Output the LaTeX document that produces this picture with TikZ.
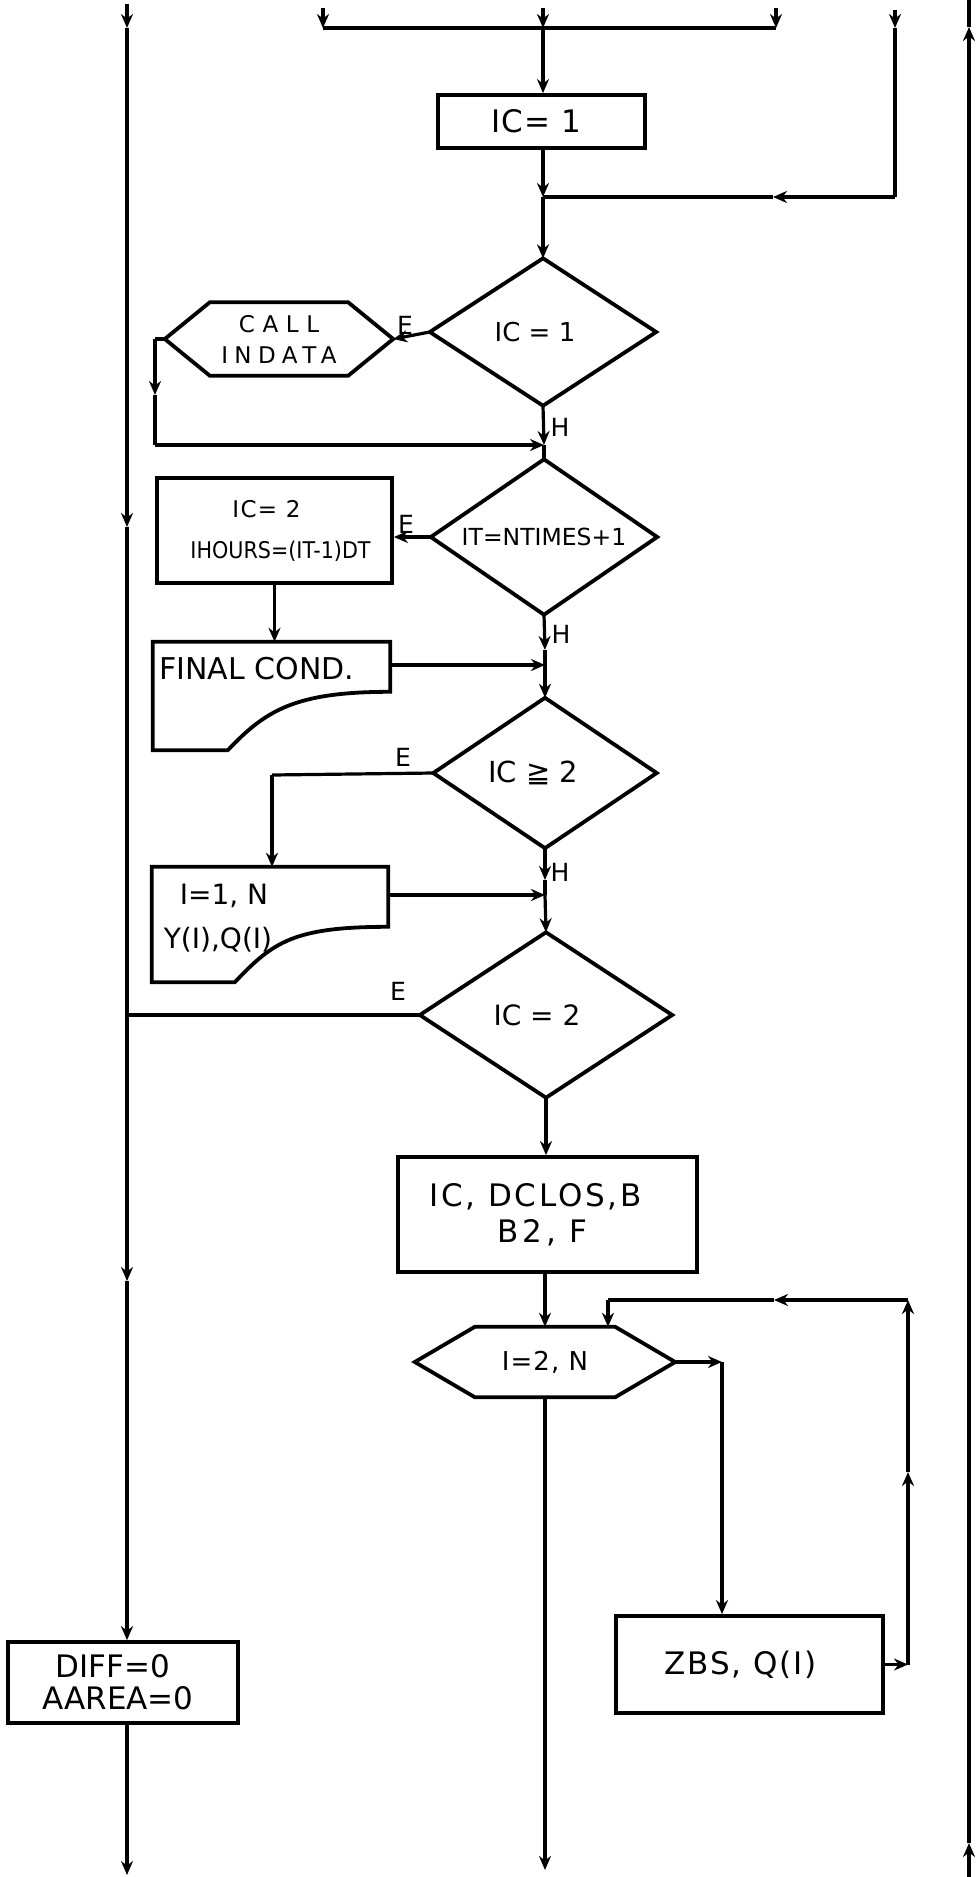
\documentclass[tikz,border=0pt]{standalone}
\usepackage{fontspec}
\setmainfont{DejaVu Sans}
\usetikzlibrary{arrows.meta,calc}
\newcommand\diaoutline[1]{\draw[shapeline] (#1.north) -- (#1.east) -- (#1.south) -- (#1.west) -- cycle;}
\newcommand\hexoutline[2]{\draw[shapeline] (#1.west) -- ($(#1.north west)+(#2,0)$) -- ($(#1.north east)+(-#2,0)$) -- (#1.east) -- ($(#1.south east)+(-#2,0)$) -- ($(#1.south west)+(#2,0)$) -- cycle;}
\newcommand\cardoutline[3]{\draw[shapeline] (#1.north west) -- (#1.north east) -- ($(#1.north east)+(0,#2)$) .. controls +(-95,0) and +(38,-40) .. ($(#1.south west)+(#3,0)$) -- (#1.south west) -- cycle;}
\newcommand\fs[1]{\fontsize{#1}{#1}\selectfont}
\newcommand\lsp[2]{{\addfontfeatures{LetterSpace=#1}#2}}
\begin{document}
\begin{tikzpicture}[x=1pt,y=-1pt,
  line/.style={line width=3.2pt},
  arr/.style={line width=3.2pt,-{Stealth[length=14pt,width=12pt]}},
  shapeline/.style={line width=3.8pt,line join=miter},
  box/.style={draw,line width=3.8pt,rectangle,inner sep=0pt,align=center},
  frame/.style={rectangle,inner sep=0pt,align=center},
  lab/.style={font=\fs{25},inner sep=0pt}]
\useasboundingbox (0,0) rectangle (978,1877);

% ---------- nodes ----------
\node[box,minimum width=207pt,minimum height=53pt,font=\fs{31}] (ic1) at (541.5,121.5) {\hspace*{-10pt}\lsp{4}{IC= 1}};

\node[frame,minimum width=226pt,minimum height=147pt,font=\fs{26}] (d1) at (543,332) {\hspace*{-16pt}IC = 1};
\diaoutline{d1}
\node[frame,minimum width=228pt,minimum height=73pt,font=\fs{23}] (call) at (279,339) {\lsp{33}{CALL}\\[8pt]\lsp{28}{INDATA}};
\hexoutline{call}{45}

\node[frame,minimum width=226pt,minimum height=155pt,font=\fs{23.5}] (d2) at (544,537) {IT=NTIMES+1};
\diaoutline{d2}
\node[box,minimum width=235pt,minimum height=105pt,font=\fs{23}] (ic2) at (274.5,530.5) {\hspace*{-16pt}\lsp{6}{IC= 2}\\[18pt]\hspace*{12pt}\scalebox{0.9}[1]{IHOURS=(IT-1)DT}};

\node[frame,minimum width=237pt,minimum height=108pt] (fc) at (271.5,696) {};
\cardoutline{fc}{50}{75}
\node[font=\fs{30},anchor=west,inner sep=0pt] (fct) at (159,669) {FINAL COND.};

\node[frame,minimum width=223pt,minimum height=150pt,font=\fs{29}] (d3) at (545,773) {\hspace*{-24pt}IC ≧ 2};
\diaoutline{d3}

\node[frame,minimum width=236pt,minimum height=115pt] (i1n) at (270,924.5) {};
\cardoutline{i1n}{60}{83}
\node[font=\fs{28},inner sep=0pt] (i1nt) at (224,896) {I=1, N};
\node[font=\fs{28},inner sep=0pt] (i1nq) at (218,940) {Y(I),Q(I)};

\node[frame,minimum width=252pt,minimum height=165pt,font=\fs{28}] (d4) at (546,1015) {\hspace*{-18pt}IC = 2};
\diaoutline{d4}

\node[box,minimum width=299pt,minimum height=115pt,font=\fs{31}] (dclos) at (547.5,1214.5) {\lsp{9}{IC, DCLOS,B}\hspace*{24pt}\\[5pt]\lsp{12}{B2, F}\hspace*{10pt}};

\node[frame,minimum width=260pt,minimum height=70pt,font=\fs{26}] (hex2) at (545,1362) {\lsp{4}{I=2, N}};
\hexoutline{hex2}{60}

\node[box,minimum width=267pt,minimum height=97pt,font=\fs{31}] (zbs) at (749.5,1664.5) {\hspace*{-18pt}\lsp{6}{ZBS, Q(I)}};

\node[box,minimum width=230pt,minimum height=81pt,font=\fs{31}] (diff) at (123,1682.5) {\hspace*{-20pt}DIFF=0\\[1pt]\hspace*{-10pt}AAREA=0};

% ---------- coordinates ----------
\coordinate (Ltop) at (127,4);
\coordinate (L1) at (127,28);
\coordinate (L2) at (127,527);
\coordinate (LE) at (127,1015);
\coordinate (L3) at (127,1281);
\coordinate (Lbot) at (127,1875);

\coordinate (Ttl) at (323,8);
\coordinate (Tl) at (323,28);
\coordinate (Tc0) at (543,8);
\coordinate (Tc) at (543,28);
\coordinate (Ttr) at (776,8);
\coordinate (Tr) at (776,28);

\coordinate (Rtop) at (895,10);
\coordinate (R1) at (895,28);
\coordinate (R2) at (895,197);
\coordinate (R3) at (773,197);
\coordinate (J1) at (543,197);

\coordinate (FR0) at (969,0);
\coordinate (FR1) at (969,27);
\coordinate (FR2) at (969,1843);
\coordinate (FR3) at (969,1877);

\coordinate (C1) at (155,395);
\coordinate (J2) at (544,445);
\coordinate (J3a) at (545,650);
\coordinate (J3) at (545,665);
\coordinate (J4a) at (545,880);
\coordinate (J4) at (545,895);
\coordinate (K1) at (272,775);

\coordinate (H1) at (722,1362);
\coordinate (Z1) at (908,1664.5);
\coordinate (Z2) at (908,1472);
\coordinate (Z3) at (908,1300);
\coordinate (Z4) at (774,1300);
\coordinate (Z5) at (608,1300);
\coordinate (Mbot) at (545,1870);

% ---------- connectors ----------
% left trunk
\draw[arr] (Ltop) -- (L1);
\draw[arr] (L1) -- (L2);
\draw[arr] (L2) -- (L3);
\draw[arr] (L3) -- (diff.north -| L3);
\draw[arr] (diff.south -| L3) -- (Lbot);

% far right trunk
\draw[arr] (FR3) -- (FR2);
\draw[arr] (FR2) -- (FR1);
\draw[line] (FR1) -- (FR0);

% top distributor
\draw[arr] (Ttl) -- (Tl);
\draw[arr] (Ttr) -- (Tr);
\draw[arr] (Tc0) -- (Tc);
\draw[line] (Tl) -- (Tr);
\draw[arr] (Tc) -- (ic1.north -| Tc);
\draw[arr] (ic1.south -| Tc) -- (J1);
\draw[arr] (J1) -- (d1.north);

% right loop-in
\draw[arr] (Rtop) -- (R1);
\draw[line] (R1) -- (R2);
\draw[arr] (R2) -- (R3);
\draw[line] (R3) -- (J1);

% IC=1 branch
\draw[arr] (d1.west) -- (call.east);
\node[lab] (e1) at (405,325) {E};
\draw[line] (call.west) -- (call.west -| C1);
\draw[arr] (call.west -| C1) -- (C1);
\draw[line] (C1) -- (C1 |- J2);
\draw[arr] (C1 |- J2) -- (J2);
\draw[arr] (d1.south) -- (J2);
\node[lab] (h1) at (560,427) {H};
\draw[line] (J2) -- (d2.north);

% IT=NTIMES+1 branch
\draw[arr] (d2.west) -- (d2.west -| ic2.east);
\node[lab] (e2) at (406,524) {E};
\draw[arr] (ic2.south) -- (fc.north -| ic2.south);
\draw[arr] (fc.east |- J3) -- (J3);
\draw[arr] (d2.south) -- (J3a);
\draw[line] (J3a) -- (J3);
\node[lab] (h2) at (561,634) {H};
\draw[arr] (J3) -- (d3.north);

% IC>=2 branch
\draw[line] (d3.west) -- (K1);
\draw[arr] (K1) -- (i1n.north -| K1);
\node[lab] (e3) at (403,757) {E};
\draw[arr] (i1n.east |- J4) -- (J4);
\draw[arr] (d3.south) -- (J4a);
\draw[line] (J4a) -- (J4);
\node[lab] (h3) at (560,872) {H};
\draw[arr] (J4) -- (d4.north);

% IC=2 branch
\draw[line] (d4.west) -- (LE);
\node[lab] (e4) at (398,991) {E};
\draw[arr] (d4.south) -- (dclos.north -| d4.south);
\draw[arr] (dclos.south -| hex2.north) -- (hex2.north);

% DO loop
\draw[arr] (hex2.east) -- (H1);
\draw[arr] (H1) -- (zbs.north -| H1);
\draw[arr] (zbs.east) -- (Z1);
\draw[arr] (Z1) -- (Z2);
\draw[arr] (Z2) -- (Z3);
\draw[arr] (Z3) -- (Z4);
\draw[line] (Z4) -- (Z5);
\draw[arr] (Z5) -- (hex2.north -| Z5);
\draw[arr] (hex2.south) -- (Mbot);
\end{tikzpicture}
\end{document}
